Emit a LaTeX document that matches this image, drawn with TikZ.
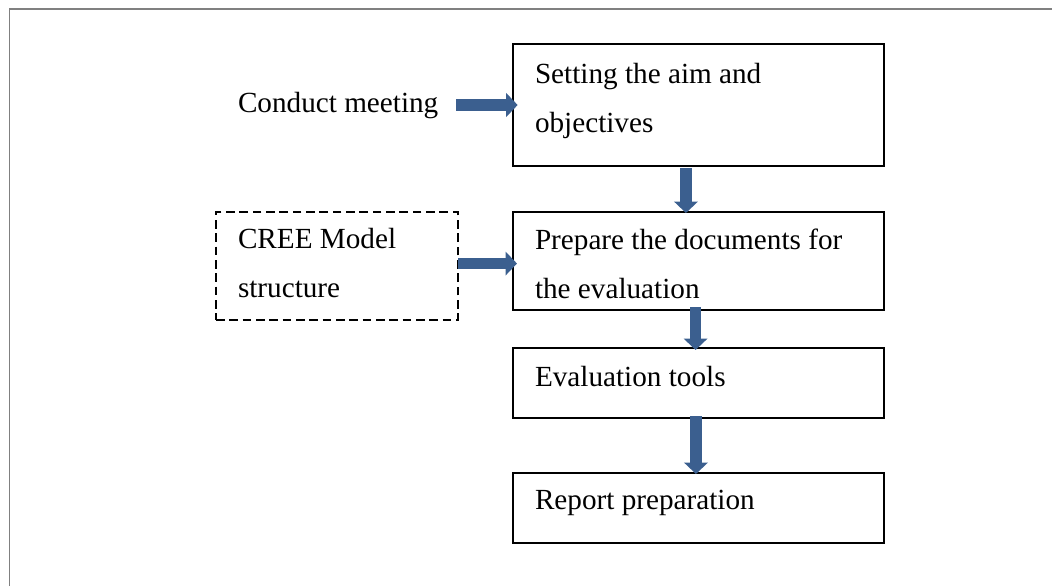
\documentclass[tikz,border=0pt]{standalone}
\usepackage{fontspec}
\setmainfont{Liberation Serif}
\usetikzlibrary{arrows.meta}
\definecolor{flowblue}{RGB}{59,95,143}
\definecolor{framegray}{RGB}{128,128,128}
\tikzset{
  stepbox/.style={draw=black, line width=1.2pt, inner sep=0pt, outer sep=0pt,
    anchor=north west, minimum width=278.25pt},
  inputbox/.style={draw=black, line width=1.2pt, dash pattern=on 6.5pt off 3.5pt,
    inner sep=0pt, outer sep=0pt, anchor=north west},
  label/.style={anchor=base west, inner sep=0pt, outer sep=0pt,
    font=\fontsize{21.9pt}{26pt}\selectfont},
  blockarrow/.style={draw=flowblue, fill=flowblue, line width=8.6pt,
    -{Triangle[length=8.6pt 0 0, width=17.5pt 0 0]}},
}
\begin{document}
\begin{tikzpicture}[x=0.75pt, y=-0.75pt]
  \useasboundingbox (0,0) rectangle (1052,586);
  % page frame (top and left edges)
  \draw[framegray, line width=1.1pt] (9.5,586) -- (9.5,9) -- (1052,9);

  % process steps
  \node[stepbox, minimum height=91.5pt] (aim) at (513,44) {};
  \node[stepbox, minimum height=73.5pt] (docs) at (513,212) {};
  \node[stepbox, minimum height=52.5pt] (tools) at (513,348) {};
  \node[stepbox, minimum height=52.5pt] (report) at (513,473) {};

  % model input
  \node[inputbox, minimum width=181.5pt, minimum height=81pt] (cree) at (216,212) {};

  % texts
  \node[label] (aimA) at (535,83) {Setting the aim and};
  \node[label] (aimB) at (535,132) {objectives};
  \node[label] (docsA) at (535,249) {Prepare the documents for};
  \node[label] (docsB) at (535,298) {the evaluation};
  \node[label] (toolsA) at (535,386) {Evaluation tools};
  \node[label] (reportA) at (535,509) {Report preparation};
  \node[label] (meeting) at (238,112) {Conduct meeting};
  \node[label] (creeA) at (238,248) {CREE Model};
  \node[label] (creeB) at (238,297) {structure};

  % connectors
  \draw[blockarrow, shorten >=-3.5pt]
    ([xshift=13.5pt]meeting.east |- aim.west) -- (aim.west);
  \draw[blockarrow, shorten >=-3pt]
    ([yshift=-1.9pt]cree.east |- docs.west) -- ([yshift=-1.9pt]docs.west);
  \draw[blockarrow, shorten >=-0.75pt, shorten <=1.5pt]
    ([xshift=-9.4pt]aim.south) -- ([xshift=-9.4pt]docs.north);
  \draw[blockarrow, shorten >=-1.5pt, shorten <=-2.25pt]
    ([xshift=-2.2pt]docs.south) -- ([xshift=-2.2pt]tools.north);
  \draw[blockarrow, shorten >=-0.75pt, shorten <=-1.5pt]
    ([xshift=-1.9pt]tools.south) -- ([xshift=-1.9pt]report.north);
\end{tikzpicture}
\end{document}
